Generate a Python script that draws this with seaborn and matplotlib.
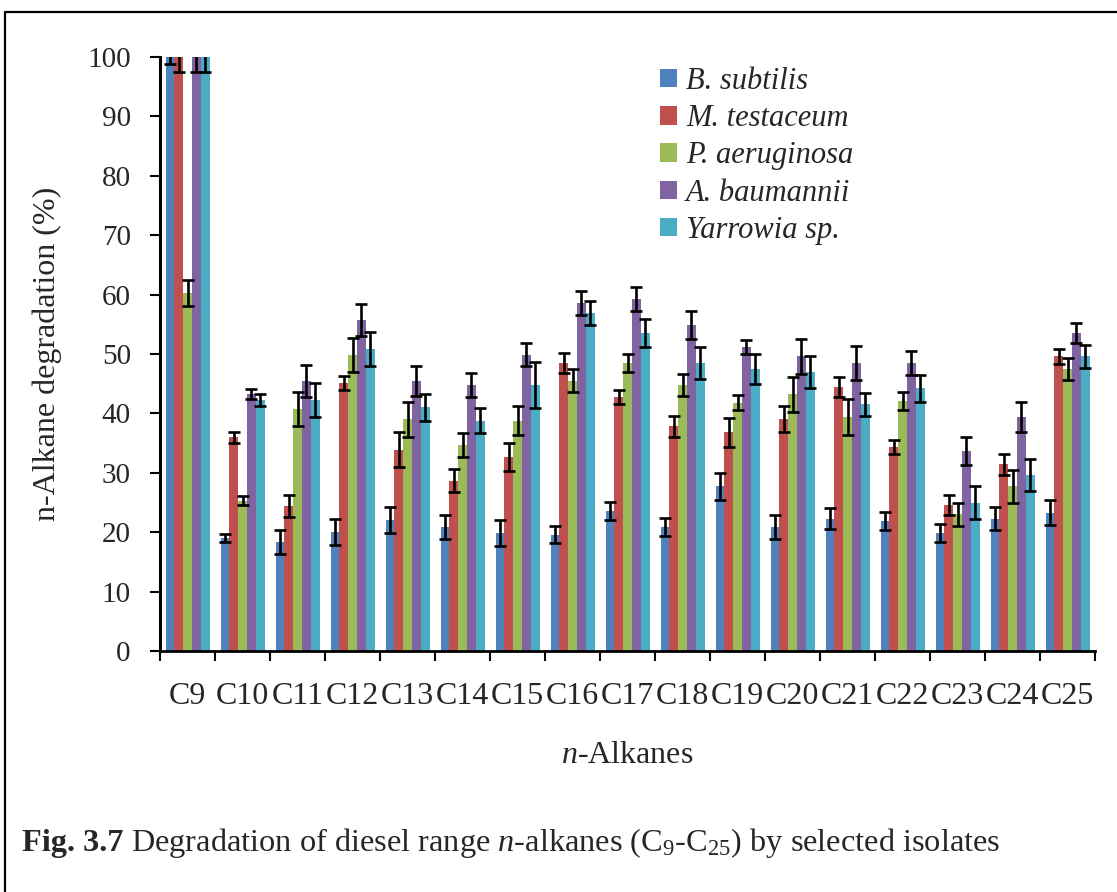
import numpy as np
import pandas as pd
import matplotlib
matplotlib.use("Agg")
import matplotlib.pyplot as plt
import seaborn as sns
from matplotlib.lines import Line2D

# ---- data -------------------------------------------------------------
alkanes = ["C9", "C10", "C11", "C12", "C13", "C14", "C15", "C16", "C17",
           "C18", "C19", "C20", "C21", "C22", "C23", "C24", "C25"]
strains = ["B. subtilis", "M. testaceum", "P. aeruginosa", "A. baumannii",
           "Yarrowia sp."]

b_subtilis = [100, 19.0, 18.3, 20.0, 22.0, 20.9, 19.9, 19.6, 23.6, 20.9,
              27.7, 20.9, 22.3, 21.9, 19.9, 22.3, 23.3]
m_testaceum = [100, 36.0, 24.4, 45.1, 33.9, 28.7, 32.7, 48.5, 42.8, 37.8,
               36.8, 39.1, 44.5, 34.4, 24.6, 31.4, 49.6]
p_aeruginosa = [60.2, 25.3, 40.7, 49.8, 39.0, 34.7, 38.8, 45.5, 48.5, 44.8,
                41.8, 43.2, 39.4, 42.1, 23.0, 27.7, 47.5]
a_baumannii = [100, 43.3, 45.4, 55.8, 45.4, 44.8, 49.9, 58.6, 59.3, 54.9,
               51.2, 49.6, 48.5, 48.5, 33.7, 39.4, 53.6]
yarrowia = [100, 42.3, 42.3, 50.8, 41.0, 38.8, 44.8, 56.9, 53.5, 48.5,
            47.5, 46.9, 41.5, 44.2, 25.0, 29.7, 49.6]

b_subtilis_err = [1.2, 0.7, 2.0, 2.2, 2.2, 2.0, 2.2, 1.5, 1.5, 1.5,
                  2.2, 2.0, 1.7, 1.5, 1.5, 2.0, 2.1]
m_testaceum_err = [2.5, 0.9, 1.8, 1.2, 3.0, 2.0, 2.4, 1.7, 1.2, 1.7,
                   2.4, 2.2, 1.7, 1.2, 1.7, 1.7, 1.3]
p_aeruginosa_err = [2.2, 0.8, 2.9, 2.9, 3.0, 2.0, 2.4, 1.9, 1.5, 1.9,
                    1.3, 2.9, 3.0, 1.5, 2.0, 2.7, 1.9]
a_baumannii_err = [2.5, 0.8, 2.7, 2.7, 2.5, 2.0, 2.0, 2.0, 2.0, 2.4,
                   1.2, 3.0, 2.9, 2.0, 2.4, 2.5, 1.7]
yarrowia_err = [2.5, 1.0, 2.9, 2.9, 2.2, 2.1, 3.9, 2.0, 2.4, 2.7,
                2.5, 2.7, 2.0, 2.2, 2.7, 2.7, 1.9]

y_ticks = [0, 10, 20, 30, 40, 50, 60, 70, 80, 90, 100]

values = [b_subtilis, m_testaceum, p_aeruginosa, a_baumannii, yarrowia]
errors = [b_subtilis_err, m_testaceum_err, p_aeruginosa_err,
          a_baumannii_err, yarrowia_err]

df = pd.DataFrame({
    "alkane": np.tile(alkanes, len(strains)),
    "strain": np.repeat(strains, len(alkanes)),
    "value": np.concatenate(values),
})

colors = ["#4F81BD", "#C0504D", "#9BBB59", "#8064A2", "#4BACC6"]

# ---- style --------------------------------------------------------------
sns.set_style("white")
plt.rcParams["font.family"] = ["Liberation Serif", "DejaVu Serif"]
plt.rcParams["mathtext.fontset"] = "custom"
plt.rcParams["mathtext.rm"] = "Liberation Serif"
plt.rcParams["mathtext.it"] = "Liberation Serif:italic"
plt.rcParams["mathtext.bf"] = "Liberation Serif:bold"

W, H = 1117, 892
fig = plt.figure(figsize=(W / 100, H / 100), dpi=100)
ax = fig.add_axes([160 / W, 1 - 651 / H, (1095 - 160) / W, (651 - 57) / H])

sns.barplot(data=df, x="alkane", y="value", hue="strain", order=alkanes,
            hue_order=strains, palette=colors, width=0.8, saturation=1,
            errorbar=None, linewidth=0, ax=ax)

bar_containers = list(ax.containers)
for cont, err in zip(bar_containers, errors):
    xs = [p.get_x() + p.get_width() / 2 for p in cont.patches]
    hs = [p.get_height() for p in cont.patches]
    ax.errorbar(xs, hs, yerr=err, fmt="none", ecolor="black",
                elinewidth=1.9, capsize=4.3, capthick=1.9, zorder=5)

# ---- axes -------------------------------------------------------------
ax.set_ylim(0, 100)
ax.set_xlim(-0.5, len(alkanes) - 0.5)
ax.set_yticks(y_ticks)
ax.tick_params(axis="y", which="major", direction="out", length=7,
               width=1.5, pad=14, labelsize=21, color="black", left=True)
ax.set_xticks(range(len(alkanes)))
ax.set_xticklabels(alkanes)
ax.tick_params(axis="x", which="major", length=0, pad=22, labelsize=23)
ax.set_xticks(np.arange(-0.5, len(alkanes), 1.0), minor=True)
ax.tick_params(axis="x", which="minor", direction="out", length=7,
               width=1.5, color="black", bottom=True)

for side in ["top", "right"]:
    ax.spines[side].set_visible(False)
ax.spines["left"].set_color("black")
ax.spines["left"].set_linewidth(2.2)
ax.spines["bottom"].set_color("black")
ax.spines["bottom"].set_linewidth(2.0)

ax.set_ylabel("n-Alkane degradation (%)", fontsize=23, labelpad=18)
ax.set_xlabel(r"$\mathit{n}$-Alkanes", fontsize=23, labelpad=22)

# ---- legend -----------------------------------------------------------
handles, labels = ax.get_legend_handles_labels()
leg = ax.legend(handles, labels, loc="upper left",
                bbox_to_anchor=(660 / W, 1 - 67 / H),
                bbox_transform=fig.transFigure, frameon=False,
                prop={"family": "Liberation Serif", "style": "italic",
                      "size": 22},
                handlelength=0.55, handleheight=0.55, handletextpad=0.3,
                labelspacing=0.27, borderpad=0, borderaxespad=0)

# ---- caption (bold figure number followed by regular text) --------------
cap_y = 1 - 843 / H
fig_no = fig.text(22 / W, cap_y, "Fig. 3.7", fontsize=23.3,
                  fontweight="bold", va="center", ha="left")
fig.canvas.draw()
x_end = fig_no.get_window_extent().x1 + 8
fig.text(x_end / W, cap_y,
         r"Degradation of diesel range $\mathit{n}$-alkanes "
         r"(C$_9$-C$_{25}$) by selected isolates",
         fontsize=23.3, va="center", ha="left")

# ---- frame --------------------------------------------------------------
fig.add_artist(Line2D([5 / W, 1.0], [1 - 12 / H, 1 - 12 / H],
                      transform=fig.transFigure, color="black", lw=1.6))
fig.add_artist(Line2D([5 / W, 5 / W], [0, 1 - 12 / H],
                      transform=fig.transFigure, color="black", lw=1.6))

fig.savefig("out.png", dpi=100)
